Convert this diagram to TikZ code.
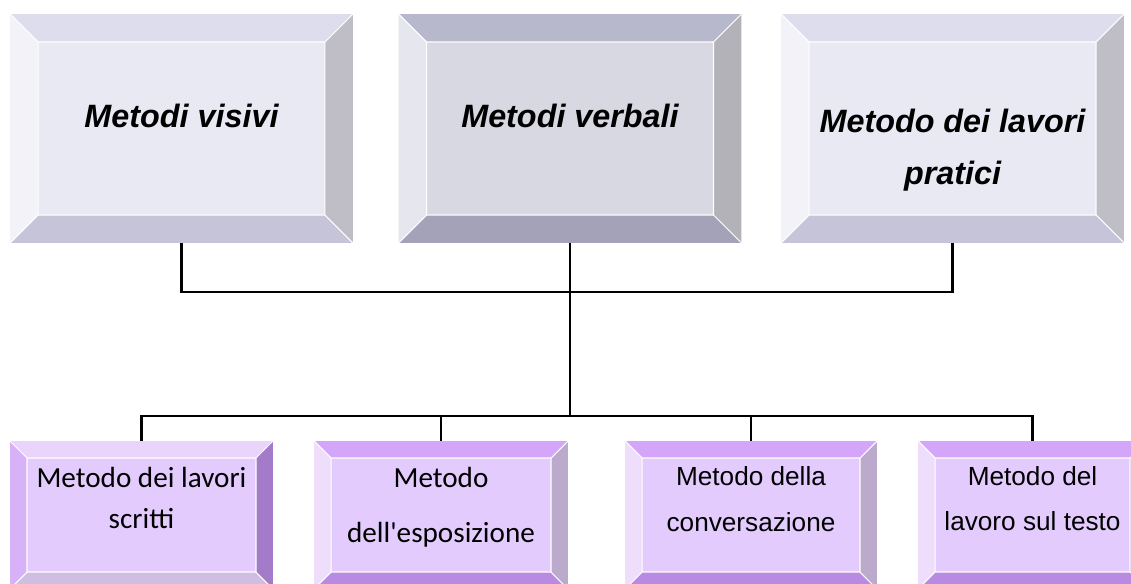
\documentclass[tikz,border=0pt]{standalone}
\usepackage{fontspec}
\setmainfont{Liberation Sans}
\newfontfamily\calib{Carlito}
\usepackage{tikz}
\usetikzlibrary{positioning}
\definecolor{grface}{RGB}{233,233,243}
\definecolor{grtop}{RGB}{221,221,237}
\definecolor{grleft}{RGB}{242,242,248}
\definecolor{grright}{RGB}{191,190,199}
\definecolor{grbot}{RGB}{197,196,217}
\definecolor{dkface}{RGB}{216,216,226}
\definecolor{dktop}{RGB}{184,184,204}
\definecolor{dkleft}{RGB}{230,230,238}
\definecolor{dkright}{RGB}{178,178,184}
\definecolor{dkbot}{RGB}{164,162,184}
\definecolor{ptface}{RGB}{227,204,253}
\definecolor{pttop}{RGB}{211,166,249}
\definecolor{ptleft}{RGB}{238,222,252}
\definecolor{ptright}{RGB}{187,170,203}
\definecolor{ptbot}{RGB}{185,138,226}
\definecolor{pstop}{RGB}{233,212,251}
\definecolor{psleft}{RGB}{216,178,248}
\definecolor{psright}{RGB}{164,123,201}
\definecolor{psbot}{RGB}{208,189,226}

\begin{document}
\begin{tikzpicture}[x=0.02cm, y=0.02cm,
  bevelbox/.style args={#1/#2/#3/#4/#5/#6}{fill=#1, inner sep=0pt,
    path picture={
      \path (path picture bounding box.north west) coordinate (pa)
            (path picture bounding box.north east) coordinate (pb)
            (path picture bounding box.south east) coordinate (pc)
            (path picture bounding box.south west) coordinate (pd)
            ([shift={(#6,-#6)}]pa) coordinate (qa) ([shift={(-#6,-#6)}]pb) coordinate (qb)
            ([shift={(-#6,#6)}]pc) coordinate (qc) ([shift={(#6,#6)}]pd) coordinate (qd);
      \fill[#2] (pa) -- (pb) -- (qb) -- (qa) -- cycle;
      \fill[#3] (pa) -- (qa) -- (qd) -- (pd) -- cycle;
      \fill[#4] (pb) -- (qb) -- (qc) -- (pc) -- cycle;
      \fill[#5] (pd) -- (qd) -- (qc) -- (pc) -- cycle;
      \draw[white, line width=0.6pt] (qa) rectangle (qc) (pa) -- (qa) (pb) -- (qb) (pc) -- (qc) (pd) -- (qd);
    }},
  topbox/.style={minimum width=6.86cm, minimum height=4.58cm},
  lowbox/.style={minimum height=2.96cm},
  toptext/.style={align=center, inner sep=0pt, font=\fontsize{18.4}{30}\selectfont\bfseries\itshape},
  cbtext/.style={align=center, inner sep=0pt, font=\calib\fontsize{16.6}{#1}\selectfont},
  artext/.style={align=center, inner sep=0pt, font=\fontsize{14.9}{#1}\selectfont},
  link/.style={draw=black, line width=1.35pt}]
\useasboundingbox (0,0) rectangle (1131,583);
\clip (0,0) rectangle (1131,583);
% Top row
\node[topbox, bevelbox=grface/grtop/grleft/grright/grbot/28] (vis) at (181.5,454.5) {};
\node[topbox, bevelbox=dkface/dktop/dkleft/dkright/dkbot/28] (verb) at (570,454.5) {};
\node[topbox, bevelbox=grface/grtop/grleft/grright/grbot/28] (prat) at (952.5,454.5) {};
\node[toptext] (visT) at (181.5,467) {Metodi visivi};
\node[toptext] (verbT) at (570,467) {Metodi verbali};
\node[toptext] (pratT) at (952.5,433) {Metodo dei lavori\\pratici};
% Bottom row
\node[lowbox, minimum width=5.26cm, bevelbox=ptface/pstop/psleft/psright/psbot/17] (scr) at (141.5,68) {};
\node[lowbox, minimum width=5.08cm, bevelbox=ptface/pttop/ptleft/ptright/ptbot/17] (esp) at (441,68) {};
\node[lowbox, minimum width=5.04cm, bevelbox=ptface/pttop/ptleft/ptright/ptbot/17] (conv) at (751,68) {};
\node[lowbox, minimum width=4.58cm, bevelbox=ptface/pttop/ptleft/ptright/ptbot/17] (test) at (1032.5,68) {};
\node[cbtext=23.8pt] (scrT) at (141.5,85) {Metodo dei lavori\\scritti};
\node[cbtext=31.2pt] (espT) at (441,75.5) {Metodo\\dell'esposizione};
\node[artext=26pt] (convT) at (751,84) {Metodo della\\conversazione};
\node[artext=25.5pt] (testT) at (1032.5,84.5) {Metodo del\\lavoro sul testo};
% Connections
\coordinate (hub) at (570,291);
\coordinate (split) at (570,167);
\draw[link] (vis.south) |- (hub) -| (prat.south);
\draw[link] (verb.south) -- (split);
\draw[link] (scr.north) |- (split) -| (test.north);
\draw[link] (esp.north) -- (esp.north |- split);
\draw[link] (conv.north) -- (conv.north |- split);
\end{tikzpicture}
\end{document}
